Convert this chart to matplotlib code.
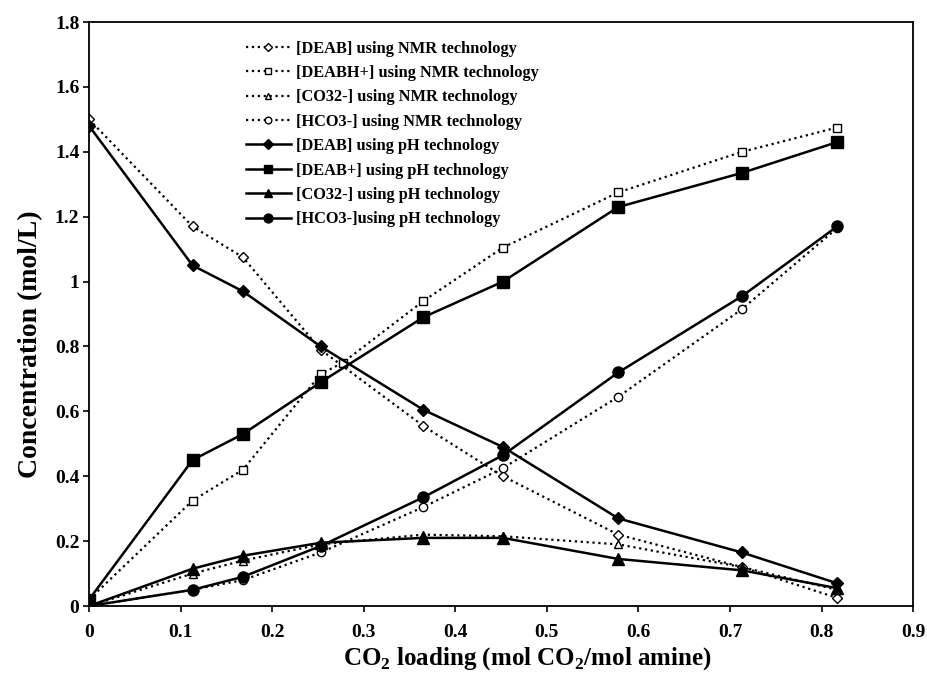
import matplotlib
matplotlib.use("Agg")
import matplotlib.pyplot as plt

plt.rcParams['font.family'] = ['Liberation Serif', 'DejaVu Serif']
plt.rcParams['font.weight'] = 'bold'
plt.rcParams['mathtext.fontset'] = 'custom'
plt.rcParams['mathtext.rm'] = 'Liberation Serif:bold'
plt.rcParams['mathtext.bf'] = 'Liberation Serif:bold'

# CO2 loading points
loading = [0, 0.113, 0.168, 0.253, 0.365, 0.452, 0.578, 0.713, 0.817]
loading_h = [0, 0.113, 0.168, 0.253, 0.277, 0.365, 0.452, 0.578, 0.713, 0.817]

# NMR technology
deab_nmr = [1.50, 1.17, 1.075, 0.79, 0.555, 0.40, 0.22, 0.12, 0.025]
deabh_nmr = [0.02, 0.325, 0.42, 0.715, 0.75, 0.94, 1.105, 1.275, 1.40, 1.475]
co3_nmr = [0.0, 0.10, 0.14, 0.19, 0.22, 0.215, 0.19, 0.12, 0.05]
hco3_nmr = [0.0, 0.05, 0.08, 0.165, 0.305, 0.425, 0.645, 0.915, 1.165]

# pH technology
deab_ph = [1.48, 1.05, 0.97, 0.80, 0.605, 0.49, 0.27, 0.165, 0.07]
deabh_ph = [0.02, 0.45, 0.53, 0.69, 0.89, 1.0, 1.23, 1.335, 1.43]
co3_ph = [0.0, 0.115, 0.155, 0.195, 0.21, 0.21, 0.145, 0.11, 0.055]
hco3_ph = [0.0, 0.05, 0.09, 0.185, 0.335, 0.465, 0.72, 0.955, 1.17]

fig = plt.figure(figsize=(9.28, 6.79), dpi=100)
ax = fig.add_axes([0.096, 0.1075, 0.888, 0.860])

dot = dict(color='black', linestyle=':', linewidth=1.6, markerfacecolor='white',
           markeredgecolor='black', markeredgewidth=1.0, markersize=6)
sol = dict(color='black', linestyle='-', linewidth=1.8, markerfacecolor='black',
           markeredgecolor='black')

ax.plot(loading, deab_nmr, marker='D', label='[DEAB] using NMR technology', **dict(dot, markersize=5))
ax.plot(loading_h, deabh_nmr, marker='s', label='[DEABH+] using NMR technology', **dot)
ax.plot(loading, co3_nmr, marker='^', label='[CO32-] using NMR technology', **dot)
ax.plot(loading, hco3_nmr, marker='o', label='[HCO3-] using NMR technology', **dot)
ax.plot(loading, deab_ph, marker='D', markersize=6, label='[DEAB] using pH technology', **sol)
ax.plot(loading, deabh_ph, marker='s', markersize=8, label='[DEAB+] using pH technology', **sol)
ax.plot(loading, co3_ph, marker='^', markersize=8, label='[CO32-] using pH technology', **sol)
ax.plot(loading, hco3_ph, marker='o', markersize=8, label='[HCO3-]using pH technology', **sol)

ax.set_xlim(0, 0.9)
ax.set_ylim(0, 1.8)
ax.set_xticks([0, 0.1, 0.2, 0.3, 0.4, 0.5, 0.6, 0.7, 0.8, 0.9])
ax.set_xticklabels(['0', '0.1', '0.2', '0.3', '0.4', '0.5', '0.6', '0.7', '0.8', '0.9'])
ax.set_yticks([0, 0.2, 0.4, 0.6, 0.8, 1.0, 1.2, 1.4, 1.6, 1.8])
ax.set_yticklabels(['0', '0.2', '0.4', '0.6', '0.8', '1', '1.2', '1.4', '1.6', '1.8'])
ax.tick_params(direction='out', length=4, width=1.2, labelsize=14)
ax.tick_params(axis='x', pad=9)
ax.tick_params(axis='y', pad=3)
for s in ax.spines.values():
    s.set_linewidth(1.3)

ax.set_xlabel(r'CO$_\mathbf{2}$ loading (mol CO$_\mathbf{2}$/mol amine)', fontsize=18,
              fontweight='bold')
ax.set_ylabel('Concentration (mol/L)', fontsize=20, fontweight='bold')
ax.xaxis.set_label_coords(0.532, -0.067)
ax.yaxis.set_label_coords(-0.056, 0.449)

leg = ax.legend(loc='upper left', bbox_to_anchor=(0.19, 0.968), frameon=False,
                borderpad=0, borderaxespad=0, markerscale=0.8,
                fontsize=11.8, handlelength=2.75, handletextpad=0.3, labelspacing=0.51)
for t in leg.get_texts():
    t.set_fontweight('bold')

fig.savefig('out.png', dpi=100)
